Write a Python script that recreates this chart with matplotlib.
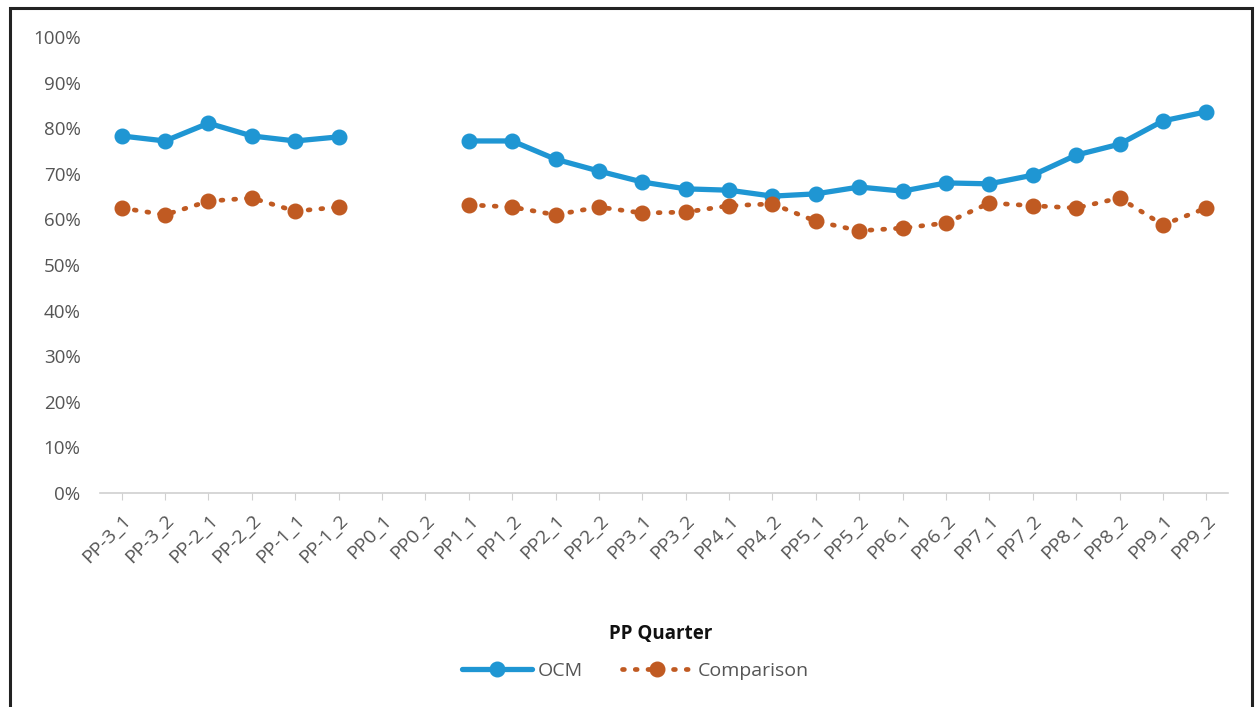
import numpy as np
import matplotlib
matplotlib.use("Agg")
import matplotlib.pyplot as plt
from matplotlib.patches import Rectangle

quarters = ["PP-3_1", "PP-3_2", "PP-2_1", "PP-2_2", "PP-1_1", "PP-1_2", "PP0_1", "PP0_2",
            "PP1_1", "PP1_2", "PP2_1", "PP2_2", "PP3_1", "PP3_2", "PP4_1", "PP4_2",
            "PP5_1", "PP5_2", "PP6_1", "PP6_2", "PP7_1", "PP7_2", "PP8_1", "PP8_2",
            "PP9_1", "PP9_2"]
ocm = [78.3, 77.2, 81.1, 78.3, 77.2, 78.1, None, None,
       77.2, 77.2, 73.2, 70.6, 68.2, 66.7, 66.4, 65.1,
       65.6, 67.1, 66.2, 68.0, 67.8, 69.7, 74.1, 76.5, 81.6, 83.6]
comparison = [62.5, 61.0, 64.0, 64.7, 61.8, 62.7, None, None,
              63.2, 62.7, 61.0, 62.7, 61.4, 61.6, 63.0, 63.4,
              59.6, 57.5, 58.1, 59.2, 63.6, 63.0, 62.5, 64.7, 58.8, 62.5]

blue = "#1F96D3"
orange = "#C05A22"

plt.rcParams['font.family'] = ['Open Sans', 'DejaVu Sans']

fig = plt.figure(figsize=(12.58, 7.07), dpi=100)
ax = fig.add_axes([100 / 1258, 1 - 493 / 707, 1128 / 1258, 456 / 707])

x = np.arange(len(quarters))
y1 = np.array([np.nan if v is None else v / 100 for v in ocm])
y2 = np.array([np.nan if v is None else v / 100 for v in comparison])

ax.plot(x, y1, color=blue, lw=3.8, marker="o", ms=10.5, label="OCM",
        solid_capstyle="round")
ax.plot(x, y2, color=orange, lw=3.4, ls=(0, (0.4, 2.3)), dash_capstyle="round",
        marker="o", ms=10.5, label="Comparison")

ax.set_xlim(-0.5, len(quarters) - 0.5)
ax.set_ylim(0, 1.0)
ax.set_yticks(np.arange(0, 1.01, 0.1))
ax.set_yticklabels([f"{int(round(t * 100))}%" for t in np.arange(0, 1.01, 0.1)])
ax.set_xticks(x)
ax.set_xticklabels(quarters, rotation=45, ha="right", rotation_mode="anchor")

for s in ["left", "right", "top"]:
    ax.spines[s].set_visible(False)
ax.spines["bottom"].set_color("#d0d0d0")
ax.spines["bottom"].set_linewidth(1.2)
ax.tick_params(axis="y", length=0, labelsize=13.5, labelcolor="#555555", pad=14)
ax.tick_params(axis="x", length=5, color="#d0d0d0", labelsize=14,
               labelcolor="#555555", pad=8)

fig.text(0.525, 1 - 634 / 707, "PP Quarter", ha="center", va="center",
         fontsize=13.5, fontweight="bold", color="#111111")
fig.legend(loc="center", bbox_to_anchor=(0.505, 1 - 671 / 707), ncol=2, frameon=False,
           fontsize=14, handlelength=3.6, columnspacing=2.0, labelcolor="#555555",
           handletextpad=0.3)

# outer chart border
fig.add_artist(Rectangle((10 / 1258, -0.05), 1242 / 1258, 1.05 - 8 / 707,
                         transform=fig.transFigure, fill=False,
                         edgecolor="#222222", lw=2.2))

fig.savefig("out.png", dpi=100)
